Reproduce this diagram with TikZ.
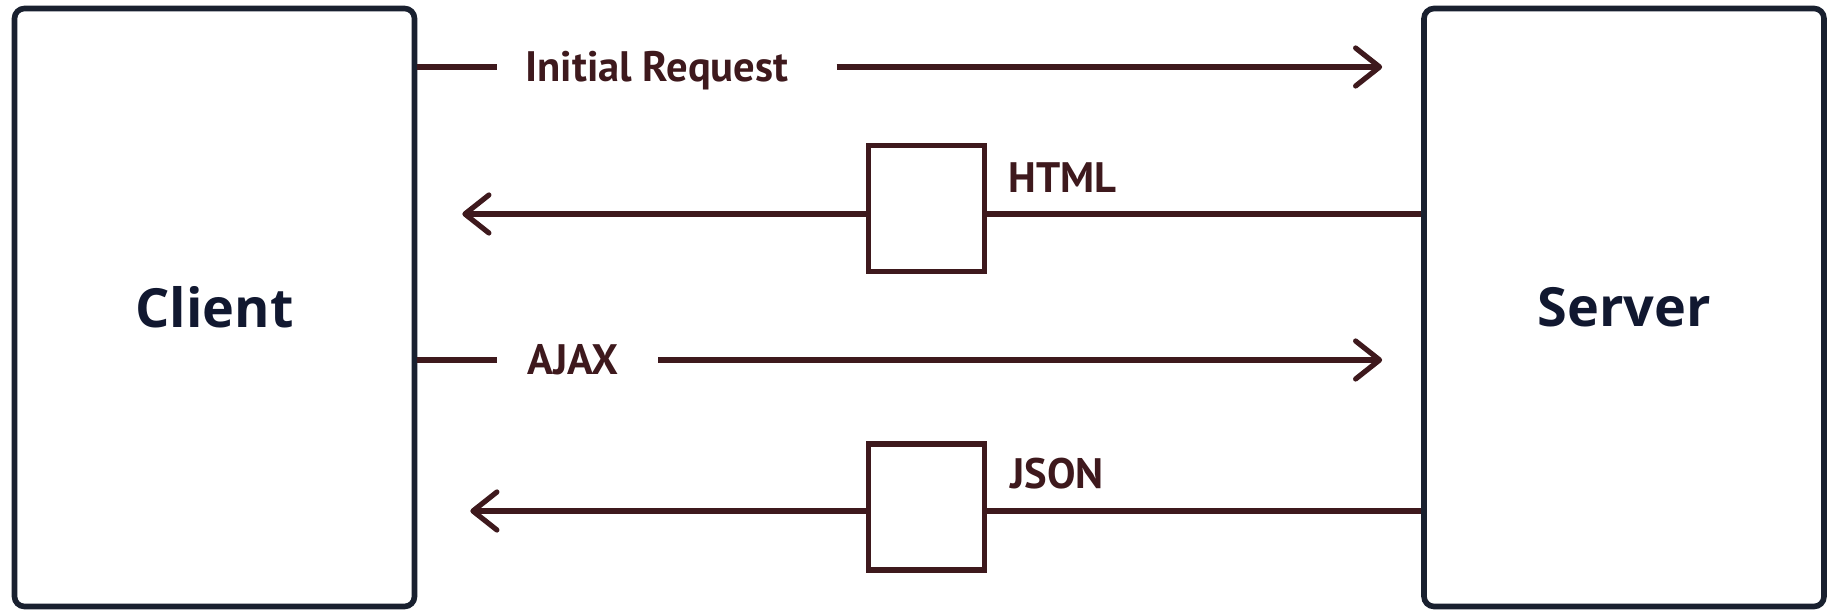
\documentclass[tikz,border=0pt]{standalone}
\usepackage{fontspec}
\setmainfont{Open Sans}
\newfontfamily\labelfont{PT Sans}
\usetikzlibrary{arrows.meta}
\usetikzlibrary{positioning}

\definecolor{linecol}{HTML}{3E191D}
\definecolor{framecol}{HTML}{19202F}
\definecolor{inkcol}{HTML}{111830}

\tikzset{
  host/.style={draw=framecol, line width=2.8pt, rounded corners=5pt, minimum width=200pt, minimum height=299pt, inner sep=0pt, text=inkcol, font=\bfseries\fontsize{27}{31}\selectfont},
  packet/.style={draw=linecol, line width=2.6pt, minimum width=58pt, minimum height=63pt, inner sep=0pt},
  msg/.style={text=linecol, inner sep=0pt, anchor=base west, font=\labelfont\bfseries\fontsize{21.3}{25}\selectfont},
  wire/.style={draw=linecol, line width=2.6pt},
  flow/.style={wire, -{Straight Barb[round, length=12pt, width=19pt]}},
}

\begin{document}
\begin{tikzpicture}[x=0.5pt, y=-0.5pt]
        \useasboundingbox (0,0) rectangle (1835,613);

        \node[host] (client) at (214.5,307.5) {Client};
        \node[host] (server) at (1624,307.5) {Server};

        % one coordinate per message line
        \coordinate (r1) at (900,67);
        \coordinate (r2) at (1200,214);
        \coordinate (r3) at (900,360);
        \coordinate (r4) at (1200,511);

        \node[msg] (req) at (525,82) {Initial Request};
        \node[msg] (ajax) at (527,375) {AJAX};

        \node[packet] (htmlbox) at (926.5,208.5) {};
        \node[packet] (jsonbox) at (926.5,507) {};
        \node[msg] (html) at (1008,193) {HTML};
        \node[msg] (json) at (1010,489) {JSON};

        % requests
        \draw[wire, shorten >=14pt] (client.east |- r1) -- (req.west |- r1);
        \draw[flow, shorten <=24pt, shorten >=19.5pt] (req.east |- r1) -- (server.west |- r1);
        \draw[wire, shorten >=15pt] (client.east |- r3) -- (ajax.west |- r3);
        \draw[flow, shorten <=19.5pt, shorten >=19.5pt] (ajax.east |- r3) -- (server.west |- r3);

        % responses
        \draw[wire] (server.west |- r2) -- (htmlbox.east |- r2);
        \draw[flow, shorten >=22.5pt] (htmlbox.west |- r2) -- (client.east |- r2);
        \draw[wire] (server.west |- r4) -- (jsonbox.east |- r4);
        \draw[flow, shorten >=26.5pt] (jsonbox.west |- r4) -- (client.east |- r4);
\end{tikzpicture}
\end{document}
